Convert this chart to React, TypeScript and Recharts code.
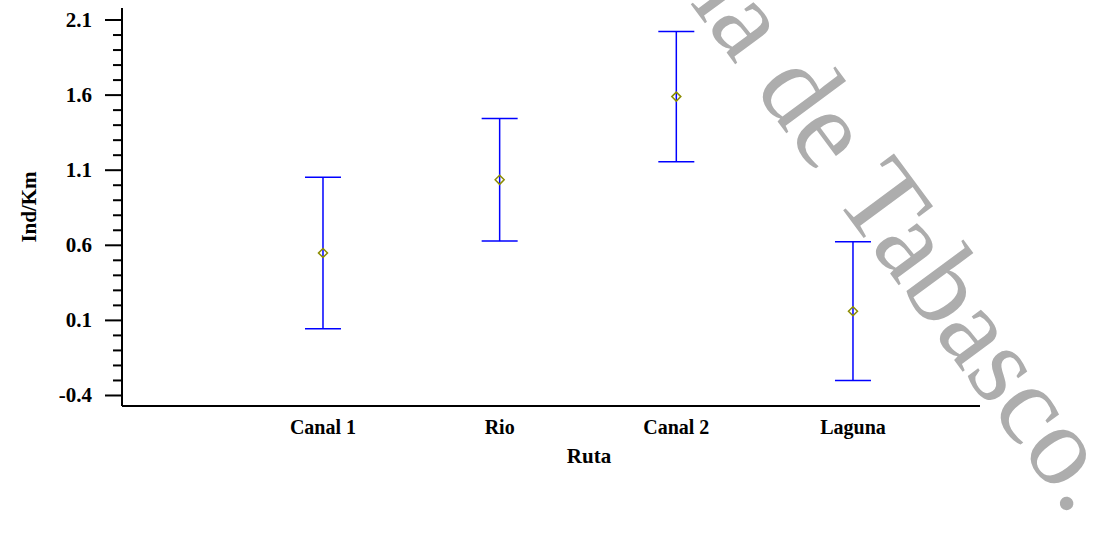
import React from "react";
import { ComposedChart, Scatter, XAxis, YAxis, ErrorBar } from "recharts";

// ---- data ----
const categories = ["Canal 1", "Rio", "Canal 2", "Laguna"];
const means = [0.549, 1.036, 1.59, 0.161];
const halfIntervals = [0.504, 0.408, 0.434, 0.462];

const yMajorTicks = [-0.4, 0.1, 0.6, 1.1, 1.6, 2.1];
const yMinorTicks = [
  -0.3, -0.2, -0.1, 0.0, 0.2, 0.3, 0.4, 0.5, 0.7, 0.8, 0.9, 1.0, 1.2, 1.3, 1.4, 1.5,
  1.7, 1.8, 1.9, 2.0,
];
const xTickPositions = [1, 2, 3, 4];

const xTitle = "Ruta";
const yTitle = "Ind/Km";
const watermark = "Universidad Juárez Autónoma de Tabasco.";

const rows = categories.map((name, i) => ({
  name,
  pos: i + 1,
  mean: means[i],
  err: halfIntervals[i],
}));

const FONT = "'Liberation Serif', 'Times New Roman', serif";

const YTick = (props: any) => {
  const { x, y, payload } = props;
  const v = payload.value as number;
  const major = yMajorTicks.some((t) => Math.abs(t - v) < 1e-6);
  return (
    <g>
      <line x1={x - (major ? 17 : 9)} x2={x} y1={y} y2={y} stroke="#000" strokeWidth={2} />
      {major && (
        <text
          x={x - 30}
          y={y + 7}
          textAnchor="end"
          fontFamily={FONT}
          fontWeight="bold"
          fontSize={21}
          fill="#000"
        >
          {v.toFixed(1)}
        </text>
      )}
    </g>
  );
};

const XTick = (props: any) => {
  const { x, y, payload } = props;
  const idx = Math.round(payload.value) - 1;
  return (
    <text
      x={x}
      y={y + 28}
      textAnchor="middle"
      fontFamily={FONT}
      fontWeight="bold"
      fontSize={20}
      fill="#000"
    >
      {categories[idx]}
    </text>
  );
};

const Diamond = (props: any) => {
  const { cx, cy } = props;
  const r = 4.5;
  return (
    <polygon
      points={`${cx},${cy - r} ${cx + r},${cy} ${cx},${cy + r} ${cx - r},${cy}`}
      fill="none"
      stroke="#8c8c00"
      strokeWidth={1.5}
    />
  );
};

const XLabel = (props: any) => {
  const vb = props.viewBox || {};
  return (
    <text
      x={vb.x + vb.width / 2 + 38}
      y={vb.y + 57}
      textAnchor="middle"
      fontFamily={FONT}
      fontWeight="bold"
      fontSize={21}
      fill="#000"
    >
      {xTitle}
    </text>
  );
};

const YLabel = (props: any) => {
  const vb = props.viewBox || {};
  const cx = 36;
  const cy = vb.y + vb.height / 2 + 0;
  return (
    <text
      x={cx}
      y={cy}
      transform={`rotate(-90, ${cx}, ${cy})`}
      textAnchor="middle"
      fontFamily={FONT}
      fontWeight="bold"
      fontSize={21}
      fill="#000"
    >
      {yTitle}
    </text>
  );
};

export default function App() {
  return (
    <div style={{ position: "absolute", left: 0, top: 0, width: 1096, height: 550, background: "#fff" }}>
      <ComposedChart
        width={1096}
        height={550}
        data={rows}
        margin={{ top: 8, right: 116, bottom: 84, left: 0 }}
      >
        <XAxis
          dataKey="pos"
          type="number"
          domain={[-0.1377, 4.719]}
          ticks={xTickPositions}
          tick={<XTick />}
          tickLine={false}
          tickSize={0}
          tickMargin={0}
          axisLine={{ stroke: "#000", strokeWidth: 2 }}
          height={60}
          interval={0}
          label={<XLabel />}
        />
        <YAxis
          type="number"
          domain={[-0.47, 2.18]}
          ticks={[...yMajorTicks, ...yMinorTicks].sort((a, b) => a - b)}
          tick={<YTick />}
          tickLine={false}
          tickSize={0}
          tickMargin={0}
          axisLine={{ stroke: "#000", strokeWidth: 2 }}
          width={122}
          interval={0}
          allowDataOverflow
          label={<YLabel />}
        />
        <Scatter dataKey="mean" isAnimationActive={false} shape={<Diamond />}>
          <ErrorBar
            dataKey="err"
            direction="y"
            width={18}
            stroke="#0000ff"
            strokeWidth={1.5}
            isAnimationActive={false}
          />
        </Scatter>
      </ComposedChart>
      <svg
        width={1096}
        height={550}
        style={{ position: "absolute", left: 0, top: 0, pointerEvents: "none" }}
      >
        <text
          x={1071}
          y={518}
          transform="rotate(53.5, 1071, 518)"
          textAnchor="end"
          fontFamily={FONT}
          fontSize={114}
          fill="#adadad"
        >
          {watermark}
        </text>
      </svg>
    </div>
  );
}
